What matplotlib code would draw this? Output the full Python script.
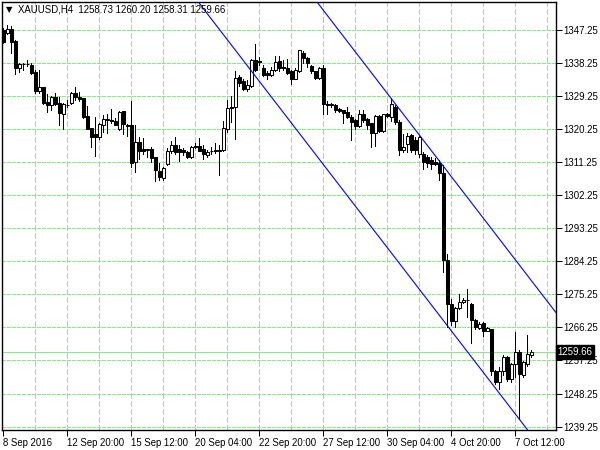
import matplotlib
matplotlib.use("Agg")
import matplotlib.pyplot as plt
import numpy as np

# XAUUSD H4 bars, oldest first
opens = [1347.3, 1346.5, 1347.4, 1344.3, 1336.9, 1337.9, 1338.0, 1337.7, 1335.7, 1330.6,
         1331.7, 1327.6, 1326.7, 1329.1, 1327.3, 1324.5, 1326.9, 1327.4, 1330.2, 1329.1,
         1328.7, 1323.8, 1320.6, 1318.9, 1318.0, 1321.5, 1322.8, 1322.7, 1322.5, 1320.2,
         1325.1, 1321.4, 1321.4, 1311.3, 1316.8, 1314.8, 1314.8, 1314.8, 1312.6, 1308.9,
         1306.9, 1310.8, 1314.2, 1316.0, 1314.8, 1314.6, 1314.1, 1312.8, 1315.7, 1315.7,
         1314.9, 1313.3, 1314.2, 1314.7, 1314.7, 1314.6, 1320.3, 1326.4, 1326.2, 1334.4,
         1333.4, 1331.3, 1332.1, 1339.0, 1338.8, 1336.9, 1335.5, 1334.9, 1336.4, 1338.7,
         1337.2, 1336.9, 1336.0, 1334.0, 1336.2, 1341.0, 1339.6, 1337.4, 1336.0, 1334.2,
         1336.9, 1327.0, 1326.7, 1326.8, 1325.7, 1325.4, 1325.0, 1323.6, 1322.7, 1321.1,
         1324.5, 1322.9, 1321.8, 1319.1, 1323.8, 1319.8, 1324.3, 1323.6, 1326.3, 1322.2,
         1314.7, 1316.2, 1318.6, 1317.2, 1313.6, 1313.6, 1312.7, 1311.8, 1311.4, 1311.1,
         1308.2, 1284.7, 1272.5, 1268.0, 1271.6, 1273.2, 1273.8, 1272.7, 1268.3, 1266.2,
         1267.4, 1265.4, 1265.9, 1254.5, 1251.3, 1254.3, 1258.2, 1252.3, 1256.3, 1259.5,
         1253.4, 1256.3, 1258.73]
highs = [1347.7, 1348.7, 1348.3, 1344.4, 1338.2, 1338.4, 1339.2, 1338.2, 1336.3, 1336.3,
         1331.7, 1329.8, 1329.3, 1330.2, 1328.9, 1327.3, 1328.1, 1330.5, 1331.8, 1330.5,
         1328.7, 1326.5, 1320.6, 1323.6, 1321.8, 1324.0, 1324.4, 1325.7, 1323.4, 1325.2,
         1325.2, 1321.7, 1328.0, 1321.3, 1318.0, 1317.9, 1314.9, 1315.4, 1312.8, 1311.0,
         1309.9, 1315.0, 1316.9, 1318.1, 1316.0, 1315.2, 1314.4, 1315.7, 1316.4, 1317.8,
         1315.9, 1314.6, 1315.4, 1316.5, 1316.0, 1322.6, 1328.2, 1329.4, 1336.0, 1335.0,
         1333.8, 1333.6, 1339.3, 1343.5, 1339.8, 1337.8, 1336.2, 1337.3, 1340.3, 1340.3,
         1339.1, 1339.4, 1336.4, 1336.9, 1341.9, 1341.4, 1339.9, 1337.6, 1336.2, 1337.3,
         1337.6, 1327.9, 1327.3, 1327.1, 1325.9, 1325.6, 1326.3, 1324.1, 1322.9, 1325.4,
         1325.4, 1323.2, 1322.0, 1324.1, 1324.1, 1324.5, 1324.7, 1328.6, 1326.8, 1322.7,
         1319.0, 1319.2, 1319.0, 1318.1, 1318.6, 1314.1, 1313.2, 1312.7, 1312.3, 1311.8,
         1310.4, 1286.3, 1274.0, 1271.8, 1275.3, 1274.2, 1276.8, 1272.9, 1268.6, 1267.8,
         1267.7, 1266.4, 1265.9, 1254.7, 1255.4, 1258.7, 1258.4, 1256.5, 1265.0, 1260.0,
         1257.2, 1264.1, 1260.20]
lows = [1343.6, 1346.3, 1341.0, 1335.2, 1335.9, 1336.3, 1337.4, 1335.4, 1330.0, 1330.1,
        1327.2, 1325.0, 1325.4, 1326.8, 1321.3, 1320.2, 1326.2, 1327.2, 1328.2, 1327.8,
        1323.4, 1320.2, 1315.4, 1312.9, 1317.5, 1319.5, 1319.3, 1321.9, 1321.3, 1320.0,
        1319.0, 1318.5, 1310.0, 1308.7, 1312.1, 1313.4, 1312.8, 1311.4, 1306.0, 1306.4,
        1306.5, 1310.5, 1313.8, 1313.5, 1311.7, 1313.3, 1312.4, 1312.4, 1315.0, 1314.2,
        1312.0, 1312.8, 1313.5, 1313.8, 1307.8, 1314.2, 1319.5, 1322.2, 1317.6, 1332.0,
        1331.0, 1330.7, 1331.8, 1336.0, 1337.8, 1334.6, 1333.8, 1334.6, 1336.2, 1336.2,
        1336.4, 1335.3, 1332.5, 1333.8, 1335.9, 1338.2, 1337.3, 1335.6, 1333.8, 1334.0,
        1324.3, 1324.4, 1326.2, 1325.0, 1324.9, 1322.0, 1323.2, 1317.3, 1320.2, 1320.9,
        1322.2, 1320.4, 1315.4, 1315.6, 1319.5, 1319.5, 1323.6, 1322.5, 1321.7, 1313.2,
        1314.0, 1314.0, 1314.0, 1313.6, 1312.7, 1309.3, 1310.0, 1309.3, 1310.5, 1306.3,
        1281.3, 1266.3, 1266.8, 1266.3, 1271.3, 1272.8, 1269.1, 1262.0, 1265.9, 1265.9,
        1264.0, 1265.2, 1253.2, 1250.9, 1249.5, 1253.2, 1251.8, 1251.4, 1252.7, 1241.3,
        1252.7, 1255.8, 1258.31]
closes = [1343.9, 1347.4, 1344.1, 1337.0, 1337.9, 1338.0, 1337.9, 1335.6, 1330.6, 1331.6,
          1327.4, 1326.7, 1329.1, 1327.1, 1324.7, 1327.1, 1326.8, 1330.2, 1329.1, 1328.5,
          1323.6, 1320.4, 1318.1, 1318.0, 1321.6, 1322.9, 1322.9, 1322.6, 1321.3, 1324.9,
          1321.6, 1321.2, 1311.0, 1316.8, 1314.4, 1314.2, 1314.7, 1312.5, 1309.0, 1307.1,
          1309.6, 1314.4, 1316.0, 1313.9, 1313.9, 1313.9, 1312.6, 1315.5, 1315.4, 1314.4,
          1313.4, 1314.1, 1314.2, 1314.2, 1314.3, 1320.5, 1326.1, 1326.0, 1334.3, 1332.7,
          1331.3, 1332.4, 1339.1, 1336.4, 1338.6, 1334.9, 1334.9, 1336.4, 1338.5, 1336.9,
          1337.0, 1335.5, 1334.0, 1336.4, 1341.7, 1339.6, 1338.4, 1336.0, 1334.2, 1336.9,
          1327.0, 1326.8, 1327.0, 1325.6, 1325.2, 1324.7, 1323.6, 1322.2, 1321.1, 1324.3,
          1322.7, 1321.3, 1319.1, 1323.8, 1319.8, 1324.3, 1323.8, 1327.2, 1322.2, 1314.5,
          1315.4, 1318.3, 1314.5, 1314.5, 1318.2, 1311.3, 1310.9, 1310.7, 1310.7, 1308.2,
          1284.5, 1272.5, 1268.0, 1271.6, 1273.2, 1273.8, 1273.6, 1268.3, 1266.3, 1267.3,
          1265.4, 1266.0, 1254.3, 1251.3, 1254.3, 1258.2, 1252.3, 1256.3, 1259.5, 1253.6,
          1256.8, 1258.9, 1259.66]

# time axis labels, one every 16 bars
time_labels = ["8 Sep 2016", "12 Sep 20:00", "15 Sep 12:00", "20 Sep 04:00", "22 Sep 20:00",
               "27 Sep 12:00", "30 Sep 04:00", "4 Oct 20:00", "7 Oct 12:00"]
price_ticks = [1239.25, 1248.25, 1257.25, 1266.25, 1275.25, 1284.25, 1293.25,
               1302.25, 1311.25, 1320.25, 1329.25, 1338.25, 1347.25]

# descending channel: two points on the upper line, one on the lower line (bar, price)
channel_upper = [(97, 1328.6), (110, 1310.2)]
channel_lower = (129, 1241.3)

symbol = "XAUUSD,H4"

GRID = "#80f080"
FONT = "Liberation Sans"
FS = 6.9
PX = 0.72  # one pixel in points

o = np.array(opens)
h = np.array(highs)
l = np.array(lows)
c = np.array(closes)
idx = np.arange(len(c))

fig = plt.figure(figsize=(6, 4.5), dpi=100)
ax = fig.add_axes([2 / 600, 20 / 450, 554 / 600, 428 / 450])

# wicks and bodies
ax.vlines(idx, l, h, color="black", linewidth=PX, zorder=3, antialiased=False)
up = c >= o
body_low = np.minimum(o, c)
body_h = np.maximum(np.abs(c - o), 0.12)
ax.bar(idx[up], body_h[up], bottom=body_low[up], width=0.7,
       color="white", edgecolor="black", linewidth=0.75, zorder=4)
ax.bar(idx[~up], body_h[~up], bottom=body_low[~up], width=0.7,
       color="black", edgecolor="black", linewidth=0.75, zorder=4)

# channel lines
(x1, y1), (x2, y2) = channel_upper
slope = (y2 - y1) / (x2 - x1)
ax.axline((x1, y1), slope=slope, color="#0000ff", linewidth=0.8, zorder=5)
ax.axline(channel_lower, slope=slope, color="#0000ff", linewidth=0.8, zorder=5)

# last price line
last = closes[-1]
ax.axhline(last, color=GRID, linewidth=PX, zorder=2, antialiased=False)

ax.set_xlim(-0.33, 138.2)
ax.set_ylim(1238.32, 1354.88)

ax.set_xticks(np.arange(len(time_labels)) * 16)
ax.set_xticklabels(time_labels, ha="left", fontsize=FS, family=FONT)
ax.set_xticks(np.arange(8, 139, 16), minor=True)
ax.yaxis.tick_right()
ax.set_yticks(price_ticks)
ax.set_yticklabels([f"{p:.2f}" for p in price_ticks], fontsize=FS, family=FONT)
ax.tick_params(axis="x", which="major", length=4, width=PX, pad=1.5, direction="out")
ax.tick_params(axis="x", which="minor", length=0)
ax.tick_params(axis="y", length=4, width=PX, pad=1.5, direction="out")

# dashed grid
dash = (0, (4, 2))
for xv in range(8, 139, 8):
    ax.axvline(xv, color=GRID, linewidth=1.0, linestyle=dash, zorder=1, antialiased=False)
for yv in price_ticks:
    ax.axhline(yv, color=GRID, linewidth=PX, linestyle=dash, zorder=1, antialiased=False)

for s in ax.spines.values():
    s.set_color("black")
    s.set_linewidth(1)

# current price marker on the price scale
ax.text(1.003, last, f"{last:.2f}", transform=ax.get_yaxis_transform(), ha="left", va="center",
        fontsize=FS, family=FONT, color="white", clip_on=False, zorder=10,
        bbox=dict(boxstyle="square,pad=0.2", fc="black", ec="black"))

# header
fig.text(6 / 600, 1 - 10 / 450, "\u25bc", fontsize=6, family="DejaVu Sans", va="center", ha="left")
header = f"{symbol}  {opens[-1]:.2f} {highs[-1]:.2f} {lows[-1]:.2f} {closes[-1]:.2f}"
fig.text(18 / 600, 1 - 10 / 450, header, fontsize=FS, family=FONT, va="center", ha="left")

fig.savefig("out.png", dpi=100)
